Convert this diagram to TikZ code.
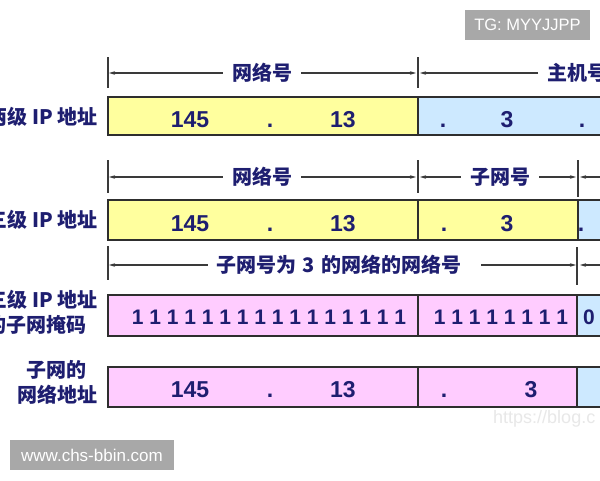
\documentclass[tikz,border=0pt]{standalone}
\usepackage{fontspec}
\setmainfont{Liberation Sans}
\newfontfamily\cjk{Noto Sans CJK SC}
\usetikzlibrary{arrows.meta}
\definecolor{navy}{HTML}{1E1E70}
\definecolor{linegray}{HTML}{3A3A3A}
\definecolor{boxgray}{HTML}{2E2E2E}
\definecolor{cyel}{HTML}{FFFF9E}
\definecolor{cblue}{HTML}{CDE9FF}
\definecolor{cpink}{HTML}{FFCCFF}
\definecolor{wmgray}{HTML}{A8A8A8}
\definecolor{faint}{HTML}{E8E8E8}
\begin{document}
\begin{tikzpicture}[x=1pt,y=-1pt,
  lbl/.style={font=\cjk\bfseries\fontsize{20}{22}\selectfont, text=navy, inner sep=0pt},
  num/.style={font=\bfseries\fontsize{23}{26}\selectfont, text=navy, inner sep=0pt, anchor=base},
  ones/.style={font=\bfseries\fontsize{21}{26}\selectfont, text=navy, inner sep=0pt, anchor=base},
  dimline/.style={draw=linegray, line width=1.2pt, -{Stealth[length=6pt,width=3.5pt]}},
  tickline/.style={draw=linegray, line width=1.3pt},
  cellborder/.style={draw=boxgray, line width=1.5pt},
  wmbox/.style={fill=wmgray, text=white, inner sep=0pt, font=\fontsize{16.5}{18}\selectfont}
]
\useasboundingbox (0,0) rectangle (600,480);
\clip (0,0) rectangle (600,480);
\fill[white] (0,0) rectangle (600,480);

% ---------- Row 1 dimension ----------
\coordinate (t1a) at (108,73);
\coordinate (t1b) at (418,73);
\draw[tickline] (t1a) ++(0,-16) -- ++(0,31);
\draw[tickline] (t1b) ++(0,-16) -- ++(0,31);
\node[lbl] (n1) at (262,73) {网络号};
\node[lbl, anchor=west] (h1) at (547,73) {主机号};
\draw[dimline, shorten <=9pt, shorten >=1pt] (n1.west) -- (t1a);
\draw[dimline, shorten <=9pt, shorten >=2pt] (n1.east) -- (t1b);
\draw[dimline, shorten <=9pt, shorten >=2pt] (h1.west) -- (t1b);

% ---------- Row 1 box ----------
\fill[cyel] (108,97) rectangle (418,135);
\fill[cblue] (418,97) rectangle (610,135);
\draw[cellborder] (610,97) -- (108,97) -- (108,135) -- (610,135);
\draw[cellborder] (418,97) -- (418,135);
\node[lbl, anchor=east] (l1) at (98,117) {两级\hspace{5pt}IP\hspace{5pt}地址};
\node[num] (r1a) at (190,127) {145};
\node[num] (r1b) at (270,127) {.};
\node[num] (r1c) at (343,127) {13};
\node[num] (r1d) at (443,127) {.};
\node[num] (r1e) at (507,127) {3};
\node[num] (r1f) at (582,127) {.};

% ---------- Row 2 dimension ----------
\coordinate (t2a) at (108,177);
\coordinate (t2b) at (418,177);
\coordinate (t2c) at (578,177);
\coordinate (h2) at (612,177);
\draw[tickline] (t2a) ++(0,-17) -- ++(0,33);
\draw[tickline] (t2b) ++(0,-17) -- ++(0,33);
\draw[tickline] (t2c) ++(0,-17) -- ++(0,37);
\node[lbl] (n2) at (262,177) {网络号};
\node[lbl] (s2) at (500,177) {子网号};
\draw[dimline, shorten <=9pt, shorten >=1pt] (n2.west) -- (t2a);
\draw[dimline, shorten <=9pt, shorten >=2pt] (n2.east) -- (t2b);
\draw[dimline, shorten <=9pt, shorten >=2pt] (s2.west) -- (t2b);
\draw[dimline, shorten <=9pt, shorten >=2pt] (s2.east) -- (t2c);
\draw[dimline, shorten >=2pt] (h2) -- (t2c);

% ---------- Row 2 box ----------
\fill[cyel] (108,200) rectangle (578,240);
\fill[cblue] (578,200) rectangle (610,240);
\draw[cellborder] (610,200) -- (108,200) -- (108,240) -- (610,240);
\draw[cellborder] (418,200) -- (418,240);
\draw[cellborder] (578,200) -- (578,240);
\node[lbl, anchor=east] (l2) at (98,220) {三级\hspace{5pt}IP\hspace{5pt}地址};
\node[num] (r2a) at (190,231) {145};
\node[num] (r2b) at (270,231) {.};
\node[num] (r2c) at (343,231) {13};
\node[num] (r2d) at (444,231) {.};
\node[num] (r2e) at (507,231) {3};
\node[num] (r2f) at (581,231) {.};

% ---------- Row 3 dimension ----------
\coordinate (t3a) at (108,265);
\coordinate (t3b) at (577,265);
\coordinate (h3) at (612,265);
\draw[tickline] (t3a) ++(0,-19) -- ++(0,34);
\draw[tickline] (t3b) ++(0,-18) -- ++(0,38);
\node[lbl] (m3) at (339,265) {子网号为\hspace{6pt}3\hspace{6pt}的网络的网络号};
\draw[dimline, shorten <=9pt, shorten >=1pt] (m3.west) -- (t3a);
\draw[dimline, shorten <=20pt, shorten >=1pt] (m3.east) -- (t3b);
\draw[dimline, shorten >=3pt] (h3) -- (t3b);

% ---------- Row 3 box (mask) ----------
\fill[cpink] (108,295) rectangle (577,336);
\fill[cblue] (577,295) rectangle (610,336);
\draw[cellborder] (610,295) -- (108,295) -- (108,336) -- (610,336);
\draw[cellborder] (418,295) -- (418,336);
\draw[cellborder] (577,295) -- (577,336);
\node[lbl, anchor=east] (l3a) at (98,300) {三级\hspace{5pt}IP\hspace{5pt}地址};
\node[lbl, anchor=east] (l3b) at (87,325) {的子网掩码};
\node[ones] (r3a) at (269,324) {1 1 1 1 1 1 1 1 1 1 1 1 1 1 1 1};
\node[ones] (r3b) at (501,324) {1 1 1 1 1 1 1 1};
\node[ones] (r3c) at (589,324) {0};

% ---------- Row 4 box (subnet address) ----------
\fill[cpink] (108,367) rectangle (577,407);
\fill[cblue] (577,367) rectangle (610,407);
\draw[cellborder] (610,367) -- (108,367) -- (108,407) -- (610,407);
\draw[cellborder] (418,367) -- (418,407);
\draw[cellborder] (577,367) -- (577,407);
\node[lbl] (l4a) at (57,370) {子网的};
\node[lbl] (l4b) at (57,395) {网络地址};
\node[num] (r4a) at (190,397) {145};
\node[num] (r4b) at (270,397) {.};
\node[num] (r4c) at (343,397) {13};
\node[num] (r4d) at (444,397) {.};
\node[num] (r4e) at (531,397) {3};

% ---------- watermarks ----------
\node[text=faint, font=\fontsize{18}{20}\selectfont, anchor=west, inner sep=0pt] (wm3) at (493,419) {https://blog.c};
\node[wmbox, minimum width=125pt, minimum height=30pt] (wm1) at (527.5,25) {TG: MYYJJPP};
\node[wmbox, minimum width=164pt, minimum height=30pt, font=\fontsize{17}{19}\selectfont] (wm2) at (92,455) {www.chs-bbin.com};
\end{tikzpicture}
\end{document}
